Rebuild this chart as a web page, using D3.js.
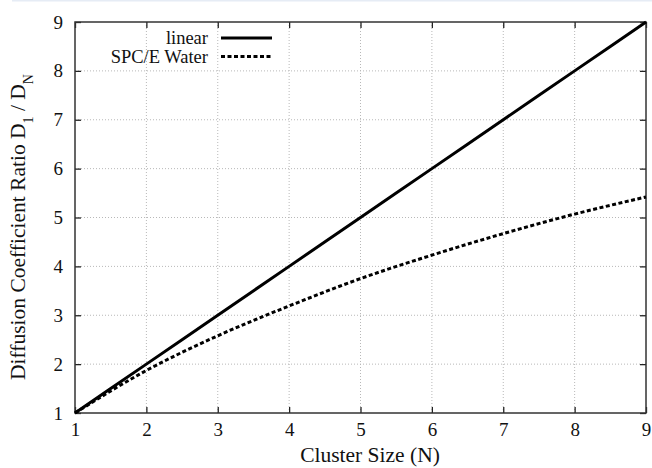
<!DOCTYPE html>
<meta charset="utf-8">
<script src="https://d3js.org/d3.v7.min.js"></script>
<style>
  body { margin: 0; background: #fff; }
  text { font-family: "Liberation Serif", "Times New Roman", serif; fill: #111; }
</style>
<div id="chart"></div>
<script>
  // cluster sizes and the two series
  const clusterSize = [1, 2, 3, 4, 5, 6, 7, 8, 9];
  const linear = [1, 2, 3, 4, 5, 6, 7, 8, 9];
  const spceWater = [1, 1.87, 2.58, 3.19, 3.75, 4.23, 4.67, 5.07, 5.42];
  const xTicks = [1, 2, 3, 4, 5, 6, 7, 8, 9];
  const yTicks = [1, 2, 3, 4, 5, 6, 7, 8, 9];

  const width = 652, height = 468;
  const margin = { top: 22, right: 6, bottom: 55, left: 75 };

  const svg = d3.select("#chart")
    .append("svg")
    .attr("width", width)
    .attr("height", height);

  // thin pale strip along the top of the image
  svg.append("rect")
    .attr("x", 12).attr("y", 0)
    .attr("width", width - 12).attr("height", 1.5)
    .attr("fill", "#e6ecf5");

  const x = d3.scaleLinear().domain([1, 9]).range([margin.left, width - margin.right]);
  const y = d3.scaleLinear().domain([1, 9]).range([height - margin.bottom, margin.top]);

  // dotted grid
  svg.append("g")
    .selectAll("line")
    .data(xTicks.slice(1, -1))
    .join("line")
    .attr("x1", d => x(d)).attr("x2", d => x(d))
    .attr("y1", y(1)).attr("y2", y(9))
    .attr("stroke", "#b8b8b8")
    .attr("stroke-width", 1)
    .attr("stroke-dasharray", "1,2");

  svg.append("g")
    .selectAll("line")
    .data(yTicks.slice(1, -1))
    .join("line")
    .attr("x1", x(1)).attr("x2", x(9))
    .attr("y1", d => y(d)).attr("y2", d => y(d))
    .attr("stroke", "#b8b8b8")
    .attr("stroke-width", 1)
    .attr("stroke-dasharray", "1,2");

  // axes with inward ticks, mirrored on top and right
  const tickLen = 6;
  const axisBottomG = svg.append("g")
    .attr("transform", `translate(0,${y(1)})`)
    .call(d3.axisBottom(x).tickValues(xTicks).tickSizeInner(-tickLen).tickSizeOuter(0).tickPadding(10));
  const axisLeftG = svg.append("g")
    .attr("transform", `translate(${x(1)},0)`)
    .call(d3.axisLeft(y).tickValues(yTicks).tickSizeInner(-tickLen).tickSizeOuter(0).tickPadding(12));
  const axisTopG = svg.append("g")
    .attr("transform", `translate(0,${y(9)})`)
    .call(d3.axisTop(x).tickValues(xTicks).tickSizeInner(-tickLen).tickSizeOuter(0).tickFormat(""));
  const axisRightG = svg.append("g")
    .attr("transform", `translate(${x(9)},0)`)
    .call(d3.axisRight(y).tickValues(yTicks).tickSizeInner(-tickLen).tickSizeOuter(0).tickFormat(""));

  [axisBottomG, axisLeftG, axisTopG, axisRightG].forEach(g => {
    g.attr("font-family", null);
    g.select(".domain").remove();
    g.selectAll(".tick line").attr("stroke", "#222").attr("stroke-width", 1.3);
    g.selectAll(".tick text")
      .style("font-family", '"Liberation Serif", serif')
      .style("font-size", "19px")
      .attr("fill", "#111");
  });

  // frame
  svg.append("rect")
    .attr("x", x(1)).attr("y", y(9))
    .attr("width", x(9) - x(1)).attr("height", y(1) - y(9))
    .attr("fill", "none")
    .attr("stroke", "#333")
    .attr("stroke-width", 1.5);

  // series
  const lineGen = d3.line()
    .x((d, i) => x(clusterSize[i]))
    .y(d => y(d))
    .curve(d3.curveMonotoneX);

  svg.append("path")
    .datum(linear)
    .attr("d", lineGen)
    .attr("fill", "none")
    .attr("stroke", "#000")
    .attr("stroke-width", 3);

  svg.append("path")
    .datum(spceWater)
    .attr("d", lineGen)
    .attr("fill", "none")
    .attr("stroke", "#000")
    .attr("stroke-width", 3)
    .attr("stroke-dasharray", "4,2.5");

  // legend
  const legend = [
    { name: "linear", dash: null },
    { name: "SPC/E Water", dash: "4,2.5" }
  ];
  const lg = svg.append("g");
  legend.forEach((item, i) => {
    const ly = 38 + i * 18.5;
    lg.append("text")
      .attr("x", 208).attr("y", ly)
      .attr("dy", "0.35em")
      .attr("text-anchor", "end")
      .style("font-size", "18.5px")
      .text(item.name);
    lg.append("line")
      .attr("x1", 221).attr("x2", 272)
      .attr("y1", ly).attr("y2", ly)
      .attr("stroke", "#000")
      .attr("stroke-width", 3)
      .attr("stroke-dasharray", item.dash);
  });

  // axis titles
  svg.append("text")
    .attr("x", 370).attr("y", 462)
    .attr("text-anchor", "middle")
    .style("font-size", "21.5px")
    .text("Cluster Size (N)");

  const yl = svg.append("text")
    .attr("transform", "translate(25,227) rotate(-90)")
    .attr("text-anchor", "middle")
    .style("font-size", "21.5px");
  yl.append("tspan").text("Diffusion Coefficient Ratio D");
  yl.append("tspan").attr("baseline-shift", "sub").style("font-size", "14px").text("1");
  yl.append("tspan").text(" / D");
  yl.append("tspan").attr("baseline-shift", "sub").style("font-size", "14px").text("N");
</script>
